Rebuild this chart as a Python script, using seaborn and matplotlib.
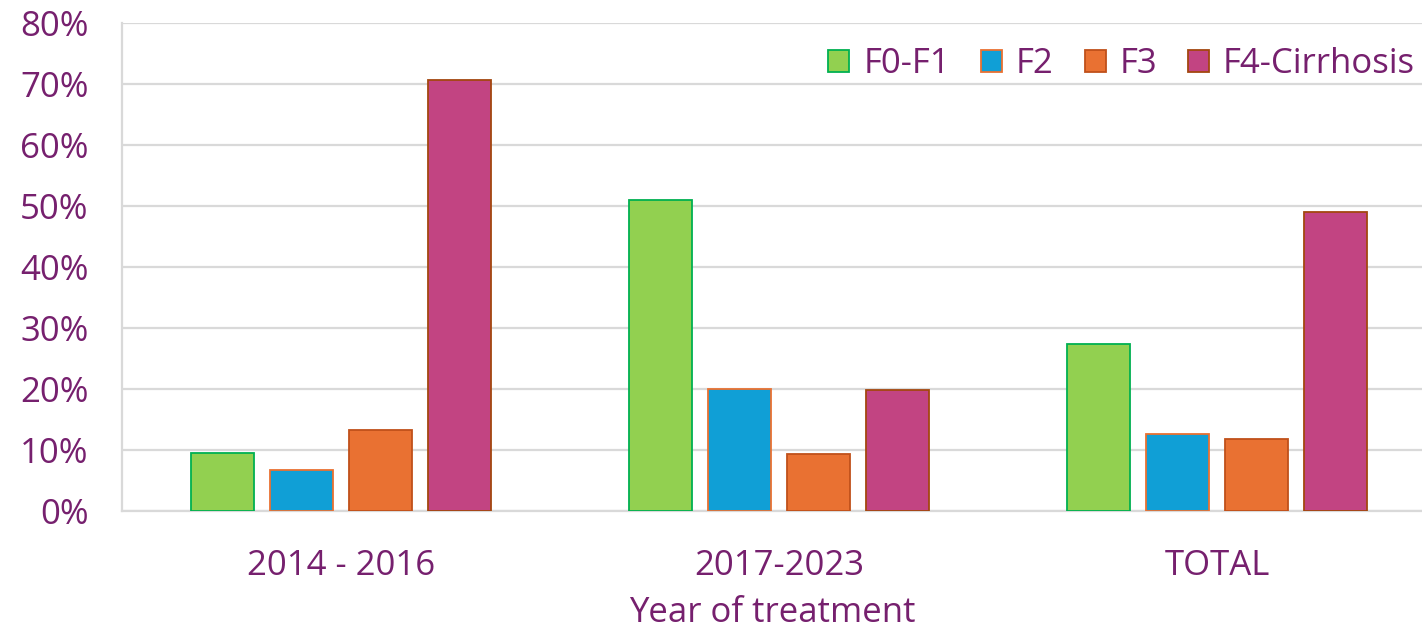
import matplotlib
matplotlib.use("Agg")
import matplotlib.pyplot as plt
import seaborn as sns
import pandas as pd
from matplotlib.ticker import PercentFormatter
from matplotlib.patches import Patch

periods = ["2014 - 2016", "2017-2023", "TOTAL"]
stages = ["F0-F1", "F2", "F3", "F4-Cirrhosis"]
f0_f1 = [9.5, 51.0, 27.3]
f2 = [6.6, 20.0, 12.6]
f3 = [13.2, 9.3, 11.7]
f4 = [70.6, 19.7, 49.0]
yticks = [0, 10, 20, 30, 40, 50, 60, 70, 80]

fills = ["#92D050", "#109FD6", "#E97132", "#C24482"]
edges = ["#00B050", "#E97132", "#C0501A", "#A3470F"]
text_color = "#76206E"
grid_color = "#D9D9D9"

rows = []
for s, vals in zip(stages, [f0_f1, f2, f3, f4]):
    for p, v in zip(periods, vals):
        rows.append({"period": p, "stage": s, "value": v})
df = pd.DataFrame(rows)

sns.set_theme(style="white")
plt.rcParams["font.family"] = ["Open Sans", "DejaVu Sans"]

FS = 25

fig = plt.figure(figsize=(14.22, 6.31), dpi=100)
ax = fig.add_axes([122 / 1422, 1 - 510.5 / 631, 1 - 122 / 1422, (510.5 - 23) / 631])

sns.barplot(data=df, x="period", y="value", hue="stage", order=periods,
            hue_order=stages, palette=fills, saturation=1, width=0.72, gap=0.2,
            ax=ax, legend=False, zorder=3)

for cont, ec in zip(ax.containers, edges):
    for bar in cont:
        bar.set_edgecolor(ec)
        bar.set_linewidth(1.3)

ax.set_ylim(0, 80)
ax.set_xlim(-0.5, (1422 - 122) / 438 - 0.5)
ax.set_yticks(yticks)
ax.yaxis.set_major_formatter(PercentFormatter(decimals=0))
ax.grid(axis="y", color=grid_color, linewidth=1.6, zorder=0)
ax.set_axisbelow(True)
for side in ["top", "right"]:
    ax.spines[side].set_visible(False)
for side in ["left", "bottom"]:
    ax.spines[side].set_color(grid_color)
    ax.spines[side].set_linewidth(1.6)

ax.tick_params(axis="both", length=0, labelsize=FS, colors=text_color)
ax.tick_params(axis="y", pad=24)
ax.tick_params(axis="x", pad=28)
ax.set_xlabel("Year of treatment", fontsize=FS, color=text_color, labelpad=9)
ax.set_ylabel("")

handles = [Patch(facecolor=f, edgecolor=e, linewidth=1.3) for f, e in zip(fills, edges)]
leg = ax.legend(handles, stages, ncol=4, loc="upper right", bbox_to_anchor=(1.0, 0.965),
                frameon=False, fontsize=FS, handlelength=0.6, handleheight=0.6,
                handletextpad=0.4, columnspacing=0.9, borderaxespad=0.0,
                borderpad=0.2)
for t in leg.get_texts():
    t.set_color(text_color)

fig.savefig("out.png", dpi=100)
